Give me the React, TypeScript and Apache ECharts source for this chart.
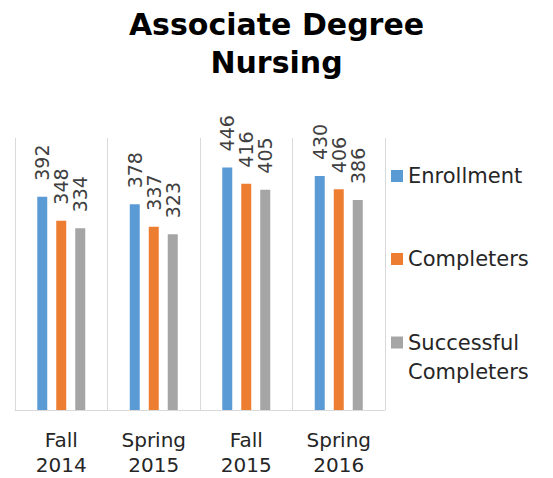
import React, { useEffect, useRef } from "react";
import * as echarts from "echarts";

const categories = ["Fall\n2014", "Spring\n2015", "Fall\n2015", "Spring\n2016"];
const enrollment = [392, 378, 446, 430];
const completers = [348, 337, 416, 406];
const successful = [334, 323, 405, 386];
const seriesNames = ["Enrollment", "Completers", "Successful Completers"];
const colors = ["#5B9BD5", "#ED7D31", "#A5A5A5"];

const FONT = "DejaVu Sans";

export default function App() {
  const ref = useRef<HTMLDivElement>(null);
  useEffect(() => {
    document.body.style.margin = "0";
    const chart = echarts.init(ref.current!, null, { renderer: "svg" });
    const label = {
      show: true,
      position: "top",
      rotate: 90,
      align: "left",
      verticalAlign: "middle",
      distance: 16,
      fontFamily: FONT,
      fontSize: 19,
      color: "#404040",
    };
    const legendText = { fontFamily: FONT, fontSize: 21, color: "#262626" };
    chart.setOption({
      animation: false,
      title: {
        text: "Associate Degree\nNursing",
        left: "center",
        top: 0,
        textStyle: {
          fontFamily: FONT,
          fontSize: 30,
          fontWeight: "bold",
          lineHeight: 38,
          color: "#000000",
        },
      },
      legend: [
        {
          data: [seriesNames[0]],
          left: 386,
          top: 159,
          itemWidth: 12,
          itemHeight: 12,
          icon: "rect",
          textStyle: { ...legendText, lineHeight: 24 },
        },
        {
          data: [seriesNames[1]],
          left: 386,
          top: 242,
          itemWidth: 12,
          itemHeight: 12,
          icon: "rect",
          textStyle: { ...legendText, lineHeight: 24 },
        },
        {
          data: [seriesNames[2]],
          left: 386,
          top: 294,
          itemWidth: 12,
          itemHeight: 12,
          icon: "rect",
          formatter: () => "\nSuccessful\nCompleters",
          textStyle: { ...legendText, lineHeight: 29 },
        },
      ],
      grid: { left: 15, right: 168, top: 138, bottom: 68 },
      xAxis: {
        type: "category",
        data: categories,
        axisLine: { show: true, lineStyle: { color: "#D9D9D9", width: 1 } },
        axisTick: { show: false },
        splitLine: { show: true, interval: 0, lineStyle: { color: "#D9D9D9", width: 1 } },
        axisLabel: {
          interval: 0,
          margin: 17,
          fontFamily: FONT,
          fontSize: 20,
          lineHeight: 25,
          color: "#262626",
        },
      },
      yAxis: {
        type: "value",
        min: 0,
        max: 500,
        show: false,
        splitLine: { show: false },
      },
      series: [
        { name: seriesNames[0], type: "bar", data: enrollment, barWidth: 10, barGap: "90%", itemStyle: { color: colors[0] }, label },
        { name: seriesNames[1], type: "bar", data: completers, barWidth: 10, barGap: "90%", itemStyle: { color: colors[1] }, label },
        { name: seriesNames[2], type: "bar", data: successful, barWidth: 10, barGap: "90%", itemStyle: { color: colors[2] }, label },
      ],
    });
    return () => chart.dispose();
  }, []);
  return <div ref={ref} style={{ width: 553, height: 478 }} />;
}
